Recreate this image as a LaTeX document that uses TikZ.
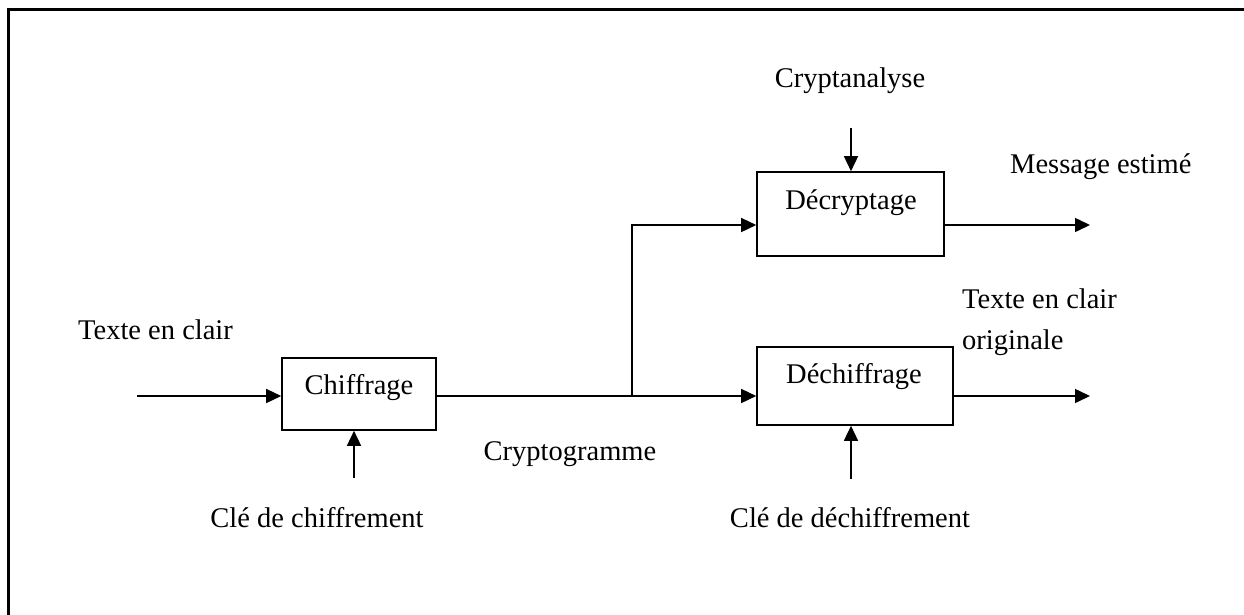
\documentclass[tikz,border=0pt]{standalone}
\usepackage{fontspec}
\setmainfont{Liberation Serif}
\usetikzlibrary{arrows.meta}
\begin{document}
\begin{tikzpicture}[x=1pt,y=-1pt,
  every node/.style={font=\fontsize{28.5}{41}\selectfont, inner sep=0pt},
  box/.style={draw, line width=1.6pt, minimum width=#1, inner sep=0pt},
  arr/.style={-{Triangle[length=15pt,width=14pt]}, line width=1.5pt},
  wire/.style={line width=1.5pt},
  lbl/.style={anchor=base}]
  \useasboundingbox (0,0) rectangle (1244,614);
  % outer frame (only its top and left sides fall on the page)
  \draw[line width=2.8pt] (8.5,9.5) rectangle (1300,700);

  % blocks
  \node[box=154pt, minimum height=72pt] (chif) at (359,394) {};
  \node[lbl] (chift) at (359,394) {Chiffrage};
  \node[box=187pt, minimum height=84pt] (decr) at (850.5,214) {};
  \node[lbl] (decrt) at (851,209) {Décryptage};
  \node[box=196pt, minimum height=78pt] (dech) at (855,386) {};
  \node[lbl] (decht) at (854,383) {Déchiffrage};

  % labels
  \node[anchor=base west] (tin) at (78,339) {Texte en clair};
  \node[lbl] (kc) at (317,527) {Clé de chiffrement};
  \node[lbl] (cg) at (570,460) {Cryptogramme};
  \node[lbl] (ca) at (850,87) {Cryptanalyse};
  \node[anchor=base west] (me) at (1010,173) {Message estimé};
  \node[anchor=base west] (to1) at (962,308) {Texte en clair};
  \node[anchor=base west] (to2) at (962,349) {originale};
  \node[lbl] (kd) at (850,527) {Clé de déchiffrement};

  % connector ends
  \coordinate (in) at (137,396);
  \coordinate (j) at (632,396);
  \coordinate (jt) at (632,225);
  \coordinate (o1) at (1090,225);
  \coordinate (o2) at (1090,396);
  \coordinate (kcs) at (354,478);
  \coordinate (kds) at (851,479);
  \coordinate (cas) at (851,128);

  % flow
  \draw[arr] (in) -- (in -| chif.west);
  \draw[wire] (chif.east |- j) -- (j);
  \draw[arr] (j) -- (j -| dech.west);
  \draw[arr] (j) -- (jt) -- (jt -| decr.west);
  \draw[arr] (o1 -| decr.east) -- (o1);
  \draw[arr] (o2 -| dech.east) -- (o2);

  % keys and attack
  \draw[arr] (kcs) -- (kcs |- chif.south);
  \draw[arr] (kds) -- (kds |- dech.south);
  \draw[arr] (cas) -- (cas |- decr.north);
\end{tikzpicture}
\end{document}
